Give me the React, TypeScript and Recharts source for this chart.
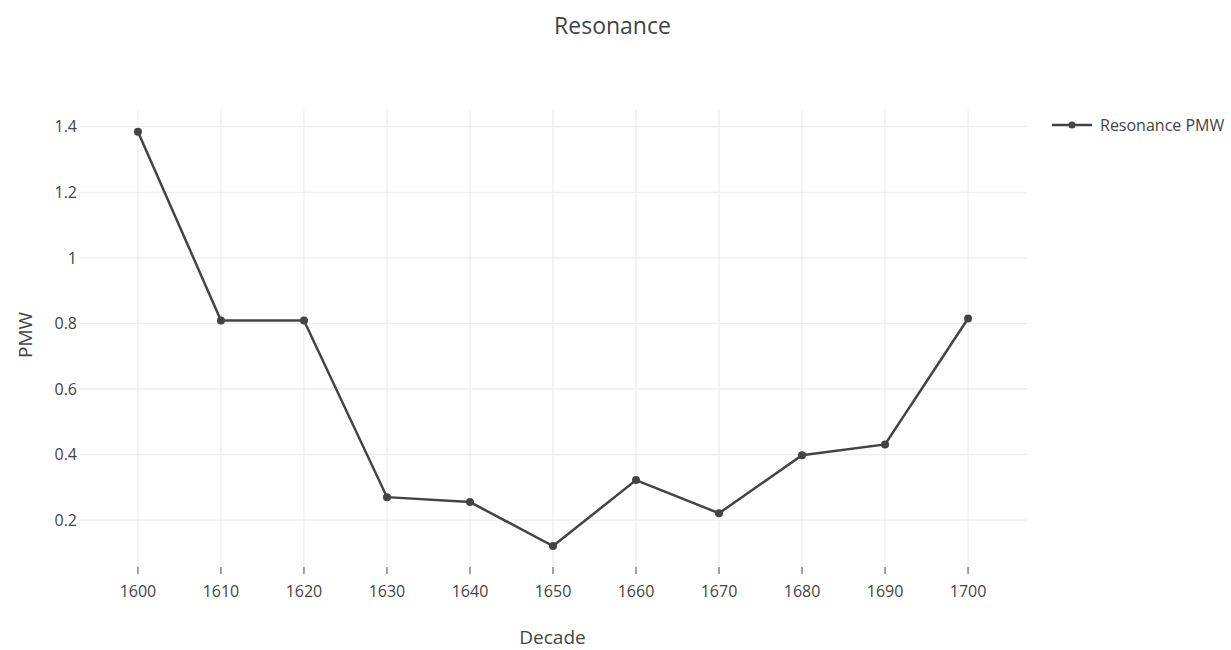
import React from 'react';
import { LineChart, Line, XAxis, YAxis, CartesianGrid, Legend } from 'recharts';

const decades = [1600, 1610, 1620, 1630, 1640, 1650, 1660, 1670, 1680, 1690, 1700];
const pmw = [1.385, 0.809, 0.809, 0.27, 0.255, 0.121, 0.322, 0.221, 0.398, 0.431, 0.815];
const xTicks = [1600, 1610, 1620, 1630, 1640, 1650, 1660, 1670, 1680, 1690, 1700];
const yTicks = [0.2, 0.4, 0.6, 0.8, 1, 1.2, 1.4];

const data = decades.map((d, i) => ({ decade: d, pmw: pmw[i] }));

const FONT = '"Open Sans", sans-serif';
const TEXT = '#444';
const LINE = '#444';

const LegendContent = () => (
  <div style={{ display: 'flex', alignItems: 'center', fontFamily: FONT, fontSize: 16, color: TEXT, lineHeight: '22px' }}>
    <svg width={40} height={10} style={{ marginRight: 8 }}>
      <line x1={0} y1={5} x2={40} y2={5} stroke={LINE} strokeWidth={2.5} />
      <circle cx={20} cy={5} r={3.5} fill={LINE} />
    </svg>
    <span>Resonance PMW</span>
  </div>
);

export default function App() {
  return (
    <div style={{ position: 'absolute', left: 0, top: 0, width: 1231, height: 650, background: '#fff', fontFamily: FONT, overflow: 'hidden' }}>
      <LineChart
        width={1231}
        height={650}
        data={data}
        margin={{ top: 110, right: 204, left: 19, bottom: 0 }}
      >
        <CartesianGrid stroke="#eee" strokeWidth={1.3} horizontalValues={yTicks} verticalValues={xTicks} />
        <XAxis
          dataKey="decade"
          type="number"
          domain={[1592.9, 1707.1]}
          ticks={xTicks}
          allowDataOverflow
          axisLine={false}
          tickLine={{ stroke: TEXT }}
          tickSize={7}
          tickMargin={12}
          height={83}
          tick={{ fill: TEXT, fontSize: 16, fontFamily: FONT }}
        />
        <YAxis
          type="number"
          domain={[0.057, 1.451]}
          ticks={yTicks}
          allowDataOverflow
          axisLine={false}
          tickLine={false}
          tickSize={0}
          tickMargin={2}
          width={60}
          tickFormatter={(v: number) => String(Math.round(v * 10) / 10)}
          tick={{ fill: TEXT, fontSize: 16, fontFamily: FONT }}
        />
        <Legend
          layout="horizontal"
          verticalAlign="middle"
          align="center"
          content={<LegendContent />}
          wrapperStyle={{ position: 'absolute', left: 1052, top: 114, width: 180 }}
        />
        <Line
          type="linear"
          dataKey="pmw"
          name="Resonance PMW"
          stroke={LINE}
          strokeWidth={2.5}
          dot={{ r: 4, fill: LINE, stroke: LINE, strokeWidth: 0 }}
          isAnimationActive={false}
        />
      </LineChart>
      <div style={{ position: 'absolute', left: 0, width: 1231, top: 10, textAlign: 'center', fontSize: 23, color: TEXT, fontFamily: FONT, lineHeight: '31px' }}>
        <span style={{ position: 'relative', left: -3 }}>Resonance</span>
      </div>
      <div style={{ position: 'absolute', left: 79, width: 947, top: 624, textAlign: 'center', fontSize: 19, color: TEXT, fontFamily: FONT, lineHeight: '26px' }}>
        Decade
      </div>
      <div style={{ position: 'absolute', left: 25, top: 335, width: 0, height: 0 }}>
        <div style={{ position: 'absolute', transform: 'translate(-50%, -50%) rotate(-90deg)', fontSize: 19, color: TEXT, fontFamily: FONT, whiteSpace: 'nowrap', lineHeight: '26px' }}>
          PMW
        </div>
      </div>
    </div>
  );
}
